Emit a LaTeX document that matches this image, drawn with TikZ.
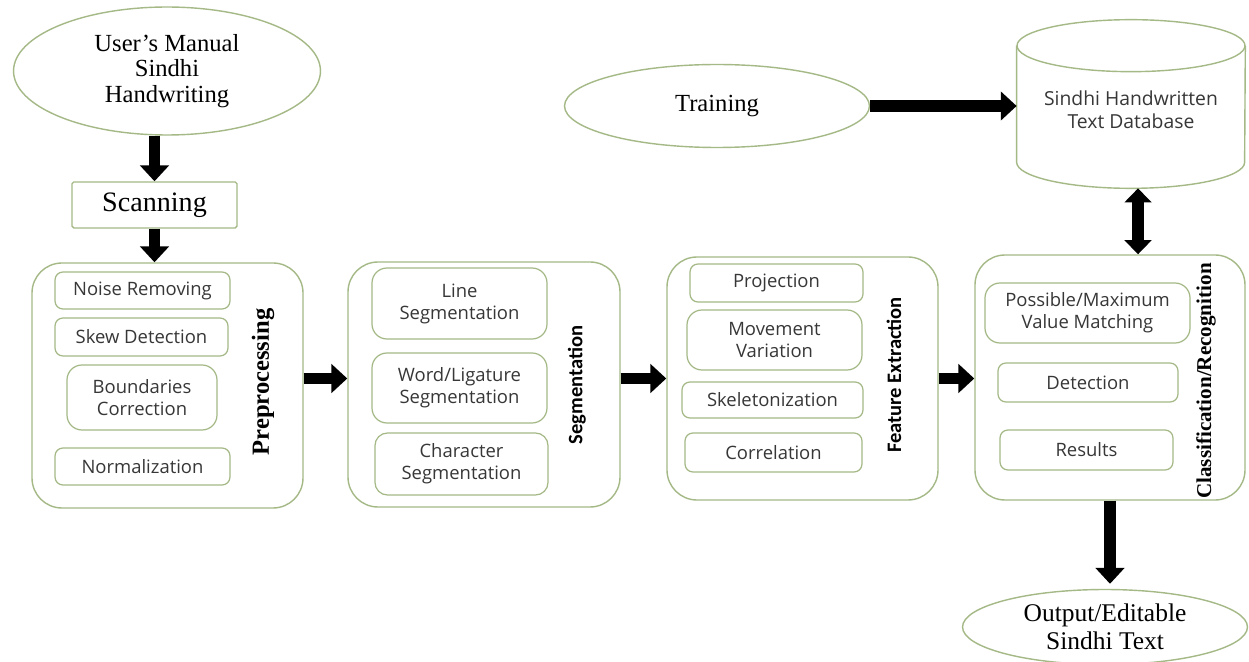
\documentclass[tikz,border=0pt]{standalone}
\usepackage{fontspec}
\setmainfont{Liberation Serif}
\newfontfamily\innerfont{Open Sans}
\newfontfamily\labfont{Carlito}
\usetikzlibrary{shapes.geometric,arrows.meta,calc}
\definecolor{bord}{RGB}{165,185,135}
\definecolor{txt}{RGB}{55,55,55}
\tikzset{
  inbox/.style={draw=bord, line width=0.7pt, rounded corners=0.16cm, inner sep=0pt,
    font=\innerfont\fontsize{10.5}{12.5}\selectfont, text=txt, align=center},
  outerbox/.style={draw=bord, line width=0.8pt, rounded corners=0.6cm, inner sep=0pt},
  serif/.style={font=\fontsize{14}{15.5}\selectfont, align=center},
  ell/.style={ellipse, draw=bord, line width=0.8pt, inner sep=0pt},
  cyl/.style={draw=bord, line width=0.8pt},
  big/.style={line width=6.8pt, -{Triangle[length=9pt,width=16pt]}},
  bothbig/.style={line width=6.8pt, {Triangle[length=8pt,width=15pt]}-{Triangle[length=8pt,width=15pt]}},
  vlab/.style={rotate=90, font=\labfont\bfseries\fontsize{11.7}{14}\selectfont},
  vserif/.style={rotate=90, font=\bfseries\fontsize{14}{16}\selectfont}
}
% #1 options, #2 name, #3 x1, #4 y1, #5 x2, #6 y2, #7 text
\newcommand\pxbox[7][]{%
  \pgfmathsetmacro\bxcx{(#3+#5)/2}%
  \pgfmathsetmacro\bxcy{(#4+#6)/2}%
  \pgfmathsetmacro\bxw{(#5-#3)*0.02}%
  \pgfmathsetmacro\bxh{(#6-#4)*0.02}%
  \node[inbox,#1,minimum width=\bxw cm,minimum height=\bxh cm] (#2) at (\bxcx,\bxcy) {#7};}
\begin{document}
\begin{tikzpicture}[x=0.02cm,y=-0.02cm]
\useasboundingbox (0,0) rectangle (1249,662);
\fill[white] (0,0) rectangle (1249,662);

% top left
\node[ell, minimum width=6.14cm, minimum height=2.56cm, serif, font=\fontsize{14}{14.3}\selectfont] (user) at (167,71) {User’s Manual\\Sindhi\\Handwriting};
\pxbox[rounded corners=1pt, line width=0.8pt, text=black, font=\fontsize{16}{18}\selectfont]{scan}{72}{182}{237}{228}{Scanning}

% outer boxes
\pxbox[outerbox]{pre}{32}{263}{303}{508}{}
\pxbox[outerbox]{seg}{348}{262}{620}{507}{}
\pxbox[outerbox]{feat}{667}{257}{938}{500}{}
\pxbox[outerbox]{cls}{975}{255}{1245}{500}{}

% preprocessing
\pxbox{nr}{55}{272}{230}{309}{Noise Removing}
\pxbox{sd}{55}{318}{228}{356}{Skew Detection}
\pxbox[rounded corners=0.3cm]{bc}{67}{365}{217}{430}{Boundaries\\Correction}
\pxbox{nm}{55}{448}{230}{485}{Normalization}
\node[vserif] (prel) at (263,382) {Preprocessing};

% segmentation
\pxbox[rounded corners=0.3cm]{ls}{372}{268}{547}{339}{Line\\Segmentation}
\pxbox[rounded corners=0.3cm]{wl}{372}{353}{547}{423}{Word/Ligature\\Segmentation}
\pxbox[rounded corners=0.25cm]{cs}{375}{433}{548}{495}{Character\\Segmentation}
\node[vlab] (segl) at (577,385) {Segmentation};

% feature extraction
\pxbox{pj}{690}{264}{863}{302}{Projection}
\pxbox[rounded corners=0.3cm]{mv}{687}{310}{862}{370}{Movement\\Variation}
\pxbox{sk}{682}{382}{863}{418}{Skeletonization}
\pxbox{co}{685}{433}{862}{472}{Correlation}
\node[vlab] (featl) at (894,375) {Feature Extraction};

% classification
\pxbox[rounded corners=0.3cm]{pm}{985}{283}{1190}{343}{Possible/Maximum\\Value Matching}
\pxbox{dt}{998}{363}{1178}{402}{Detection}
\pxbox{rs}{1000}{430}{1173}{470}{Results}
\node[vserif, font=\bfseries\fontsize{12}{14}\selectfont] (clsl) at (1206,381) {Classification/Recognition};

% training and database
\node[ell, minimum width=6.1cm, minimum height=1.66cm, serif] (train) at (717,106) {Training};
\node[inner sep=0pt, minimum width=4.56cm, minimum height=3.36cm, font=\innerfont\fontsize{11}{13}\selectfont, text=txt, align=center] (db) at (1131,104) {\\[2pt]Sindhi Handwritten\\Text Database};
\draw[cyl] ($(db.north)+(0,26)$) ellipse [x radius=2.28cm, y radius=0.52cm];
\draw[cyl] ($(db.north west)+(0,26)$) -- ($(db.south west)+(0,-26)$)
  arc[start angle=180, end angle=360, x radius=2.28cm, y radius=0.52cm]
  -- ($(db.north east)+(0,26)$);

% output
\node[ell, minimum width=5.7cm, minimum height=1.5cm, serif, font=\fontsize{14.5}{16}\selectfont] (out) at (1105,627) {Output/Editable\\Sindhi Text};

% connectors
\draw[big] (scan.north |- user.south) -- (scan.north);
\draw[big] (scan.south) -- (scan.south |- pre.north);
\draw[big] (feat.west -| pre.east) -- (feat.west -| seg.west);
\draw[big] (feat.west -| seg.east) -- (feat.west);
\draw[big] (feat.east) -- (feat.east -| cls.west);
\draw[big] (train.east) -- (train.east -| db.west);
\draw[bothbig] ([xshift=4pt]db.south) -- ([xshift=4pt]db.south |- cls.north);
\draw[big] (cls.south) -- ($(cls.south |- out.north)+(0,-5)$);
\end{tikzpicture}
\end{document}
